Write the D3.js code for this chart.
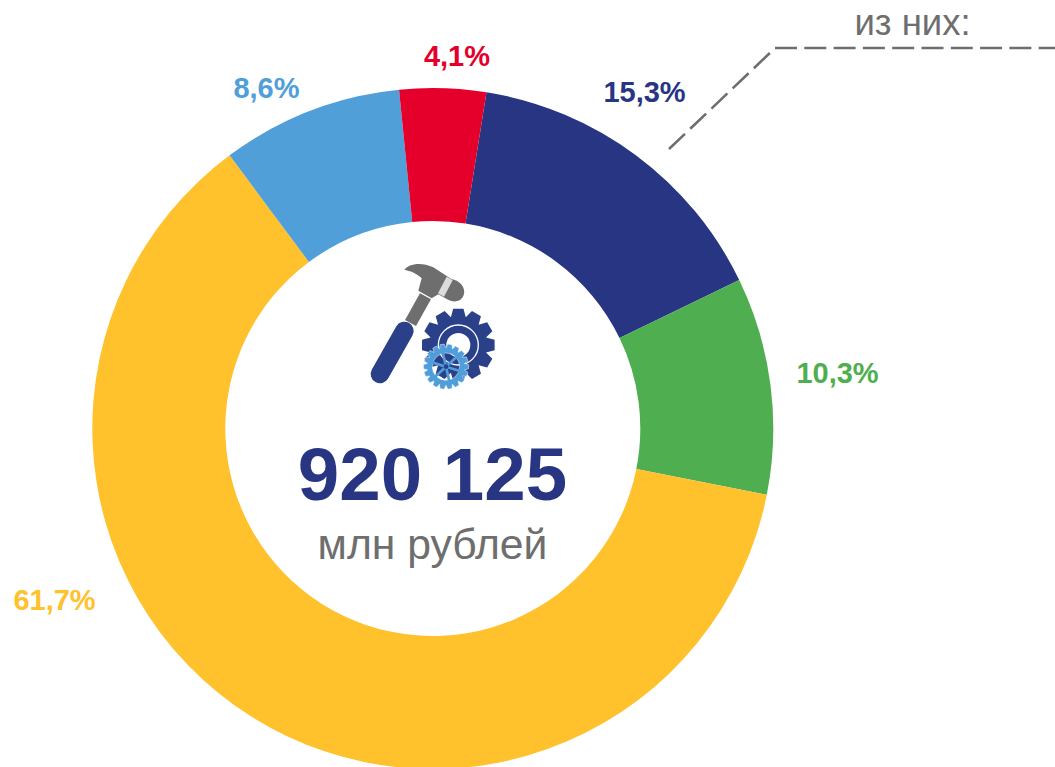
<!DOCTYPE html>
<html>
<head>
<meta charset="utf-8">
<script src="https://cdn.jsdelivr.net/npm/d3@7"></script>
<style>
	html, body { margin: 0; background: #fff; overflow: hidden; }
	text { font-family: "Liberation Sans", Arial, sans-serif; }
</style>
</head>
<body>
<div id="chart"></div>
<script>
// segments in clockwise order, starting from the dark blue one
const categories = ['dark', 'green', 'yellow', 'light', 'red'],
	values = [15.3, 10.3, 61.7, 8.6, 4.1],
	totalLabel = '920 125',
	unitLabel = 'млн рублей',
	noteLabel = 'из них:';

const colors = ['#283583', '#4fae50', '#ffc12c', '#519fd9', '#e4002b'],
	// label centres, these were placed by hand in the original
	labelPos = [[644.5, 92], [837.5, 373], [54.5, 600], [266.5, 88], [457, 56]];

const width = 1055, height = 767,
	cx = 432.8, cy = 428.5,
	outer = 340.5, inner = 207.5,
	gray = '#6e6e6e';

const formatPct = d => d3.format('.1f')(d).replace('.', ',') + '%';

const svg = d3.select('#chart').append('svg')
	.attr('width', width)
	.attr('height', height)
	.style('display', 'block');

const pie = d3.pie().sort(null)
	.startAngle(9.07 * Math.PI / 180)
	.endAngle(369.07 * Math.PI / 180);

const arc = d3.arc().innerRadius(inner).outerRadius(outer);

svg.append('g')
	.attr('transform', `translate(${cx},${cy})`)
	.selectAll('path')
	.data(pie(values))
	.join('path')
	.attr('d', arc)
	.attr('fill', (d, i) => colors[i]);

svg.append('g')
	.selectAll('text')
	.data(values)
	.join('text')
	.attr('x', (d, i) => labelPos[i][0])
	.attr('y', (d, i) => labelPos[i][1])
	.attr('dy', '.35em')
	.attr('text-anchor', 'middle')
	.attr('font-size', 29)
	.attr('font-weight', 'bold')
	.attr('fill', (d, i) => colors[i])
	.text(formatPct);

// centre text
svg.append('text')
	.attr('x', 432.5).attr('y', 500)
	.attr('text-anchor', 'middle')
	.attr('font-size', 74.5)
	.attr('font-weight', 'bold')
	.attr('fill', '#283583')
	.text(totalLabel);

svg.append('text')
	.attr('x', 432.5).attr('y', 559)
	.attr('text-anchor', 'middle')
	.attr('font-size', 42.7)
	.attr('fill', gray)
	.text(unitLabel);

// "из них" callout
svg.append('text')
	.attr('x', 912.5).attr('y', 35)
	.attr('text-anchor', 'middle')
	.attr('font-size', 36.5)
	.attr('fill', gray)
	.text(noteLabel);

svg.selectAll('path.callout')
	.data(['M669,149 L773,50', 'M775,48 L1055,48'])
	.join('path')
	.attr('class', 'callout')
	.attr('d', d => d)
	.attr('fill', 'none')
	.attr('stroke', gray)
	.attr('stroke-width', 2.6)
	.attr('stroke-dasharray', '22,7.3');

// icon, drawn in the coordinates of a 3x crop
function gearPath(x, y, rOut, rIn, teeth) {
	const pts = [], step = 2 * Math.PI / teeth;
	for (let i = 0; i < teeth; i++) {
		const a = i * step;
		[[-0.5, rIn], [-0.27, rOut], [0.27, rOut], [0.5, rIn]].forEach(p => {
			const t = a + p[0] * step;
			pts.push([x + p[1] * Math.cos(t), y + p[1] * Math.sin(t)]);
		});
	}
	return 'M' + pts.map(p => p.join(',')).join('L') + 'Z';
}

function circlePath(x, y, r) {
	return `M${x - r},${y}A${r},${r} 0 1,0 ${x + r},${y}A${r},${r} 0 1,0 ${x - r},${y}Z`;
}

const icon = svg.append('g')
	.attr('transform', 'translate(350,250) scale(0.3333)');

icon.append('path')
	.attr('d', 'M210,130 L243,148 L198,228 L165,210 Z')
	.attr('fill', gray);
icon.append('path')
	.attr('d', 'M163,60 C175,40 215,35 250,52 L305,88 C335,92 352,122 338,142 C325,160 305,155 290,147 L265,133 L245,145 L205,122 L215,85 C200,70 180,62 163,60 Z')
	.attr('fill', gray);
icon.append('path')
	.attr('d', 'M290,80 L308,91 L282,140 L264,130 Z')
	.attr('fill', '#dcdcdc');
icon.append('line')
	.attr('x1', 163).attr('y1', 243)
	.attr('x2', 90).attr('y2', 372)
	.attr('stroke', '#2a4189')
	.attr('stroke-width', 56)
	.attr('stroke-linecap', 'round');

icon.append('path')
	.attr('d', gearPath(325, 285, 110, 86, 12))
	.attr('fill', '#2a4189');
icon.append('circle')
	.attr('cx', 325).attr('cy', 285).attr('r', 60)
	.attr('fill', 'none').attr('stroke', '#fff').attr('stroke-width', 4);
icon.append('circle')
	.attr('cx', 325).attr('cy', 285).attr('r', 36)
	.attr('fill', '#fff');

// small gear is open in the middle, big gear shows through
icon.append('path')
	.attr('d', gearPath(288, 350, 68, 56, 18) + circlePath(288, 350, 41))
	.attr('fill', '#4f9ddb')
	.attr('fill-rule', 'evenodd')
	.attr('stroke', '#fff')
	.attr('stroke-width', 1.5);
d3.range(6).forEach(i => {
	const a = i * Math.PI / 3 + 0.3;
	icon.append('line')
		.attr('x1', 288).attr('y1', 350)
		.attr('x2', 288 + 46 * Math.cos(a)).attr('y2', 350 + 46 * Math.sin(a))
		.attr('stroke', '#4f9ddb').attr('stroke-width', 8);
});
icon.append('circle')
	.attr('cx', 288).attr('cy', 350).attr('r', 7)
	.attr('fill', '#2a4189');
</script>
</body>
</html>
